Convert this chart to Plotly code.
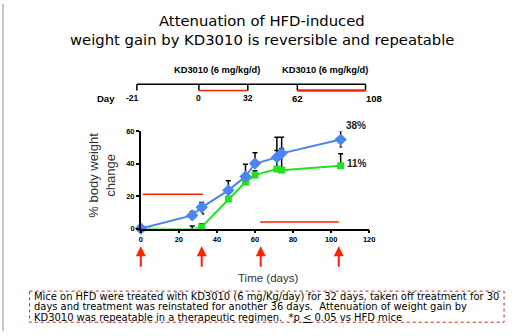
import plotly.graph_objects as go

# ---- data ----
days_hfd = [0, 27, 32, 46, 55, 60, 71.5, 74, 105]
hfd_pct = [0, 8.1, 13.1, 23.6, 32.1, 40.2, 44, 46.5, 55]
hfd_err = [0, 2.4, 3, 6, 7.7, 6.7, 4.3, 3, 5.4]

days_kd = [0, 27, 32, 46, 55, 60, 71.5, 74, 105]
kd_pct = [0, -0.5, 1, 18.2, 28.7, 33, 36.8, 36.1, 38.8]
kd_err = [0, 2, 2, 0, 0, 2.8, 19.7, 20.4, 7.5]

sig_x = [32.7, 105]
sig_y = [7.6, 49.3]

pct_labels = ["38%", "11%"]
pct_x = [113, 113.5]
pct_y = [64, 40.2]

dosing_days = [0, 32, 63, 104]
treat_bars = [(1, 32.6, 21.2), (62.7, 104, 4)]

x_ticks = [0, 20, 40, 60, 80, 100, 120]
y_ticks = [0, 20, 40, 60]

timeline_labels = ["-21", "0", "32", "62", "108"]
timeline_px = [137, 200, 249.7, 300, 369.3]
timeline_label_px = [133, 200, 249.7, 300, 378]

title_lines = ["Attenuation of HFD-induced", "weight gain by KD3010 is reversible and repeatable"]
note_lines = [
    "Mice on HFD were treated with KD3010 (6 mg/Kg/day) for 32 days, taken off treatment for 30",
    "days and treatment was reinstated for another 36 days.  Attenuation of weight gain by",
    "KD3010 was repeatable in a therapeutic regimen.  *p <u>&lt;</u> 0.05 vs HFD mice",
]

W, H = 514, 336
RED = "#ff2200"
BLUE = "#4a84f5"
GREEN = "#22e022"
FONT = "Liberation Sans"
FONT2 = "DejaVu Sans"
Y_MAX = 60


def px(x):
    return x / W


def py(y):
    return 1 - y / H


fig = go.Figure()

for x0, x1, yv in treat_bars:
    fig.add_trace(go.Scatter(x=[x0, x1], y=[yv, yv], mode="lines",
                             line=dict(color=RED, width=1.5), hoverinfo="skip",
                             showlegend=False, cliponaxis=False))

fig.add_trace(go.Scatter(
    x=days_kd, y=kd_pct, mode="lines+markers",
    line=dict(color=GREEN, width=2),
    marker=dict(symbol="square", size=7, color=GREEN),
    error_y=dict(type="data", symmetric=False, array=kd_err, arrayminus=[0] * len(kd_err),
                 color="black", thickness=1.5, width=2.5),
    showlegend=False, cliponaxis=False))

fig.add_trace(go.Scatter(
    x=days_hfd, y=hfd_pct, mode="lines+markers",
    line=dict(color=BLUE, width=2),
    marker=dict(symbol="diamond", size=9.5, color=BLUE),
    error_y=dict(type="data", symmetric=False, array=hfd_err, arrayminus=[0] * len(hfd_err),
                 color="black", thickness=1.5, width=2.5),
    showlegend=False, cliponaxis=False))

fig.add_trace(go.Scatter(x=sig_x, y=sig_y, mode="text", text=["*"] * len(sig_x),
                         textfont=dict(family=FONT, size=9, color="black"),
                         showlegend=False, cliponaxis=False))

annotations = []
shapes = []

for lab, xv, yv in zip(pct_labels, pct_x, pct_y):
    annotations.append(dict(text=lab, x=xv, y=yv / Y_MAX, xref="x", yref="y domain", showarrow=False,
                            xanchor="center", yanchor="middle",
                            font=dict(family=FONT, size=10, color="#222", weight="bold")))

for i, t in enumerate(title_lines):
    annotations.append(dict(text=t, x=px(264), y=py(16.5 + 19.5 * i), xref="paper", yref="paper",
                            showarrow=False, xanchor="center", yanchor="middle",
                            font=dict(family=FONT2, size=14.8, color="black")))

# timeline schematic
shapes.append(dict(type="line", xref="paper", yref="paper",
                   x0=px(timeline_px[0]), x1=px(timeline_px[-1]), y0=py(82.5), y1=py(82.5),
                   line=dict(color="black", width=1.5)))
for p in timeline_px:
    shapes.append(dict(type="line", xref="paper", yref="paper",
                       x0=px(p), x1=px(p), y0=py(82.5), y1=py(89),
                       line=dict(color="black", width=1.5)))
shapes.append(dict(type="line", xref="paper", yref="paper",
                   x0=px(timeline_px[1]), x1=px(timeline_px[2]), y0=py(89), y1=py(89),
                   line=dict(color=RED, width=1.5)))
shapes.append(dict(type="line", xref="paper", yref="paper",
                   x0=px(timeline_px[3]), x1=px(timeline_px[4]), y0=py(89), y1=py(89),
                   line=dict(color=RED, width=2.5)))
for cx in [218.5, 328.5]:
    annotations.append(dict(text="KD3010 (6 mg/kg/d)", x=px(cx), y=py(67.5), xref="paper", yref="paper",
                            showarrow=False, xanchor="center", yanchor="middle",
                            font=dict(family=FONT, size=9.3, color="black", weight="bold")))
annotations.append(dict(text="Day", x=px(105.5), y=py(97), xref="paper", yref="paper",
                        showarrow=False, xanchor="center", yanchor="middle",
                        font=dict(family=FONT, size=9.5, color="black", weight="bold")))
for lab, p in zip(timeline_labels, timeline_label_px):
    big = lab in ("62", "108")
    annotations.append(dict(text=lab, x=px(p), y=py(97), xref="paper", yref="paper",
                            showarrow=False, xanchor="center", yanchor="middle",
                            font=dict(family=FONT, size=9.5 if big else 8.5, color="black", weight="bold")))

for d in dosing_days:
    annotations.append(dict(x=d, y=py(249), xref="x", yref="paper", text="",
                            showarrow=True, arrowhead=2, arrowsize=1, arrowwidth=2,
                            arrowcolor=RED, ax=0, ay=22, axref="pixel", ayref="pixel"))

annotations.append(dict(text="% body weight<br>change", x=px(102), y=py(176), xref="paper", yref="paper",
                        showarrow=False, textangle=-90, xanchor="center", yanchor="middle",
                        font=dict(family=FONT, size=13, color="#333")))
annotations.append(dict(text="Time (days)", x=px(270), y=py(281.5), xref="paper", yref="paper",
                        showarrow=False, xanchor="center", yanchor="middle",
                        font=dict(family=FONT, size=11.5, color="#333")))

shapes.append(dict(type="rect", xref="paper", yref="paper",
                   x0=px(28), x1=px(510), y0=py(295), y1=py(327),
                   line=dict(color="#cc2222", width=1, dash="dot")))
for i, t in enumerate(note_lines):
    annotations.append(dict(text=t, x=px(30.5), y=py(300.5 + 10.7 * i), xref="paper", yref="paper",
                            showarrow=False, xanchor="left", yanchor="middle",
                            font=dict(family=FONT2, size=9.95, color="black")))

shapes.append(dict(type="line", xref="paper", yref="paper", x0=px(1), x1=px(1), y0=0, y1=1,
                   line=dict(color="#c8c8c8", width=2)))

fig.update_layout(
    width=W, height=H, margin=dict(l=0, r=0, t=0, b=0),
    paper_bgcolor="white", plot_bgcolor="white",
    annotations=annotations, shapes=shapes,
    xaxis=dict(domain=[px(141), px(373)], range=[0, 120], tickvals=x_ticks,
               showline=True, linecolor="black", linewidth=1.5, ticks="outside", ticklen=3,
               tickwidth=1.5, tickcolor="black", showgrid=False, zeroline=False,
               tickfont=dict(family=FONT, size=7.5, color="black", weight="bold"), fixedrange=True),
    yaxis=dict(domain=[py(230.7), py(131)], range=[0, Y_MAX], tickvals=y_ticks,
               showline=True, linecolor="black", linewidth=1.5, ticks="outside", ticklen=3,
               tickwidth=1.5, tickcolor="black", showgrid=False, zeroline=False,
               tickfont=dict(family=FONT, size=7.5, color="black", weight="bold"), fixedrange=True),
)

fig.write_html("out.html", config={"displayModeBar": False},
               post_script="document.body.style.margin='0';document.body.style.overflow='hidden';")
